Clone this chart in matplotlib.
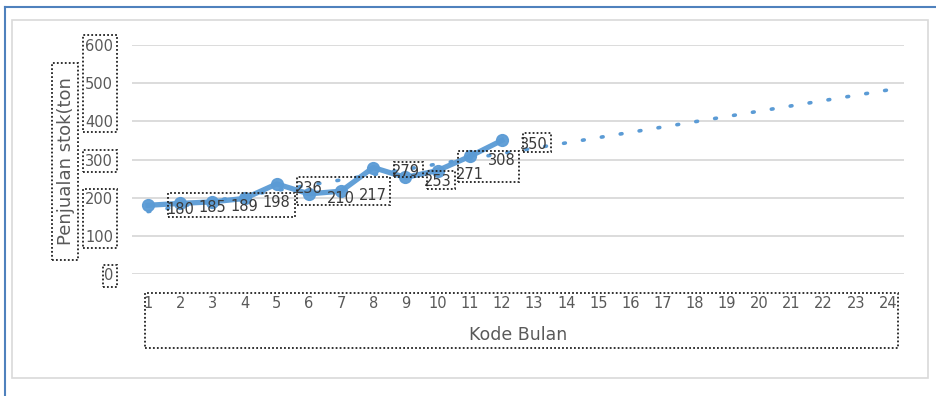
import numpy as np
import matplotlib
matplotlib.use("Agg")
import matplotlib.pyplot as plt
from matplotlib.patches import Rectangle

plt.rcParams['font.family'] = ['DejaVu Sans']

# data
bulan = np.arange(1, 13)
penjualan = [180, 185, 189, 198, 236, 210, 217, 279, 253, 271, 308, 350]
x_ticks = list(range(1, 25))
y_ticks = [0, 100, 200, 300, 400, 500, 600]

W, H = 936, 396
fig = plt.figure(figsize=(W / 100, H / 100), dpi=100)


def px(x0, y0, x1, y1):
    # pixel box (from top-left) -> figure fraction rect
    return (x0 / W, 1 - y1 / H, (x1 - x0) / W, (y1 - y0) / H)


# outer frame (blue) and chart area (grey)
fig.add_artist(plt.Line2D([5 / W, 1], [1 - 7 / H, 1 - 7 / H], color='#4F81BD', lw=1.5))
fig.add_artist(plt.Line2D([5 / W, 5 / W], [0, 1 - 7 / H], color='#4F81BD', lw=1.5))
r = px(12, 20, 928, 378)
fig.add_artist(Rectangle(r[:2], r[2], r[3], transform=fig.transFigure,
                         fill=False, ec='#D9D9D9', lw=1.2))

ax = fig.add_axes([132 / W, 1 - 274 / H, (904 - 132) / W, (274 - 45) / H])

# trend line
coef = np.polyfit(bulan, penjualan, 1)
xt = np.array([1, 24])
ax.plot(xt, np.polyval(coef, xt), color='#5B9BD5', lw=2.6,
        linestyle=(0, (0.5, 4.8)), dash_capstyle='round', zorder=2)

ax.plot(bulan, penjualan, color='#5B9BD5', lw=3.8, marker='o', ms=8.5,
        alpha=0.95, zorder=3)

# data labels (shifted one step right, as in the original)
for b, v in zip(bulan, penjualan):
    ax.annotate(str(v), (b + 1, v), xytext=(0, -3), textcoords='offset points',
                ha='center', va='center', fontsize=10.5, color='#3a3a3a', zorder=4)

ax.set_xlim(0.5, 24.5)
ax.set_ylim(0, 600)
ax.set_xticks(x_ticks)
ax.set_yticks(y_ticks)
ax.tick_params(length=0, colors='#595959', labelsize=10.5)
ax.tick_params(axis='y', pad=13.5)
ax.tick_params(axis='x', pad=16)
ax.grid(axis='y', color='#D9D9D9', lw=1.3)
ax.set_axisbelow(True)
for s in ax.spines.values():
    s.set_visible(False)

fig.text(518 / W, 1 - 335 / H, 'Kode Bulan', ha='center', va='center',
         fontsize=12.5, color='#595959')
fig.text(66 / W, 1 - 161 / H, 'Penjualan stok(ton', ha='center', va='center',
         rotation=90, fontsize=13, color='#595959')

# dotted selection boxes
boxes = [
    (83, 35, 117, 132), (83, 150, 117, 172), (83, 189, 117, 248), (103, 265, 117, 287),
    (52, 63, 78, 260), (145, 293, 898, 348),
    (168, 193, 295, 217), (297, 177, 390, 205), (394, 162, 423, 177),
    (427, 171, 455, 189), (458, 151, 519, 182), (523, 133, 551, 152),
]
for b in boxes:
    r = px(*b)
    fig.add_artist(Rectangle(r[:2], r[2], r[3], transform=fig.transFigure,
                             fill=False, ec='#222222', lw=1.3, linestyle=(0, (1, 1.2)),
                             zorder=10))

fig.savefig('out.png', dpi=100)
